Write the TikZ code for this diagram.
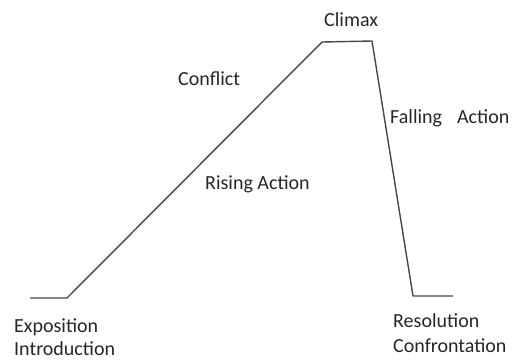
\documentclass[tikz,border=0pt]{standalone}
\usepackage{fontspec}
\setmainfont{Carlito}
\begin{document}
\begin{tikzpicture}[x=1pt,y=-1pt,
  lbl/.style={anchor=base west,inner sep=0pt,font=\fontsize{20}{24}\selectfont,text=black!85},
  plot/.style={draw=black!72,line width=1.4pt,line join=round}]
\useasboundingbox (0,0) rectangle (513,360);
\coordinate (a) at (30,298);
\coordinate (b) at (67,298);
\coordinate (c) at (322,42);
\coordinate (d) at (372,41);
\coordinate (e) at (413,296);
\coordinate (f) at (453,296);
\draw[plot] (a) -- (b) -- (c) -- (d) -- (e) -- (f);
\node[lbl] (climax) at (324,26) {Climax};
\node[lbl] (conflict) at (178,85) {Conflict};
\node[lbl] (rising) at (205,189) {Rising Action};
\node[lbl] (falling) at (390,123) {Falling\hspace{15pt}Action};
\node[lbl] (expo) at (14,332) {Exposition};
\node[lbl] (intro) at (14,355) {Introduction};
\node[lbl] (resol) at (393,327) {Resolution};
\node[lbl] (confr) at (393,352) {Confrontation};
\end{tikzpicture}
\end{document}
